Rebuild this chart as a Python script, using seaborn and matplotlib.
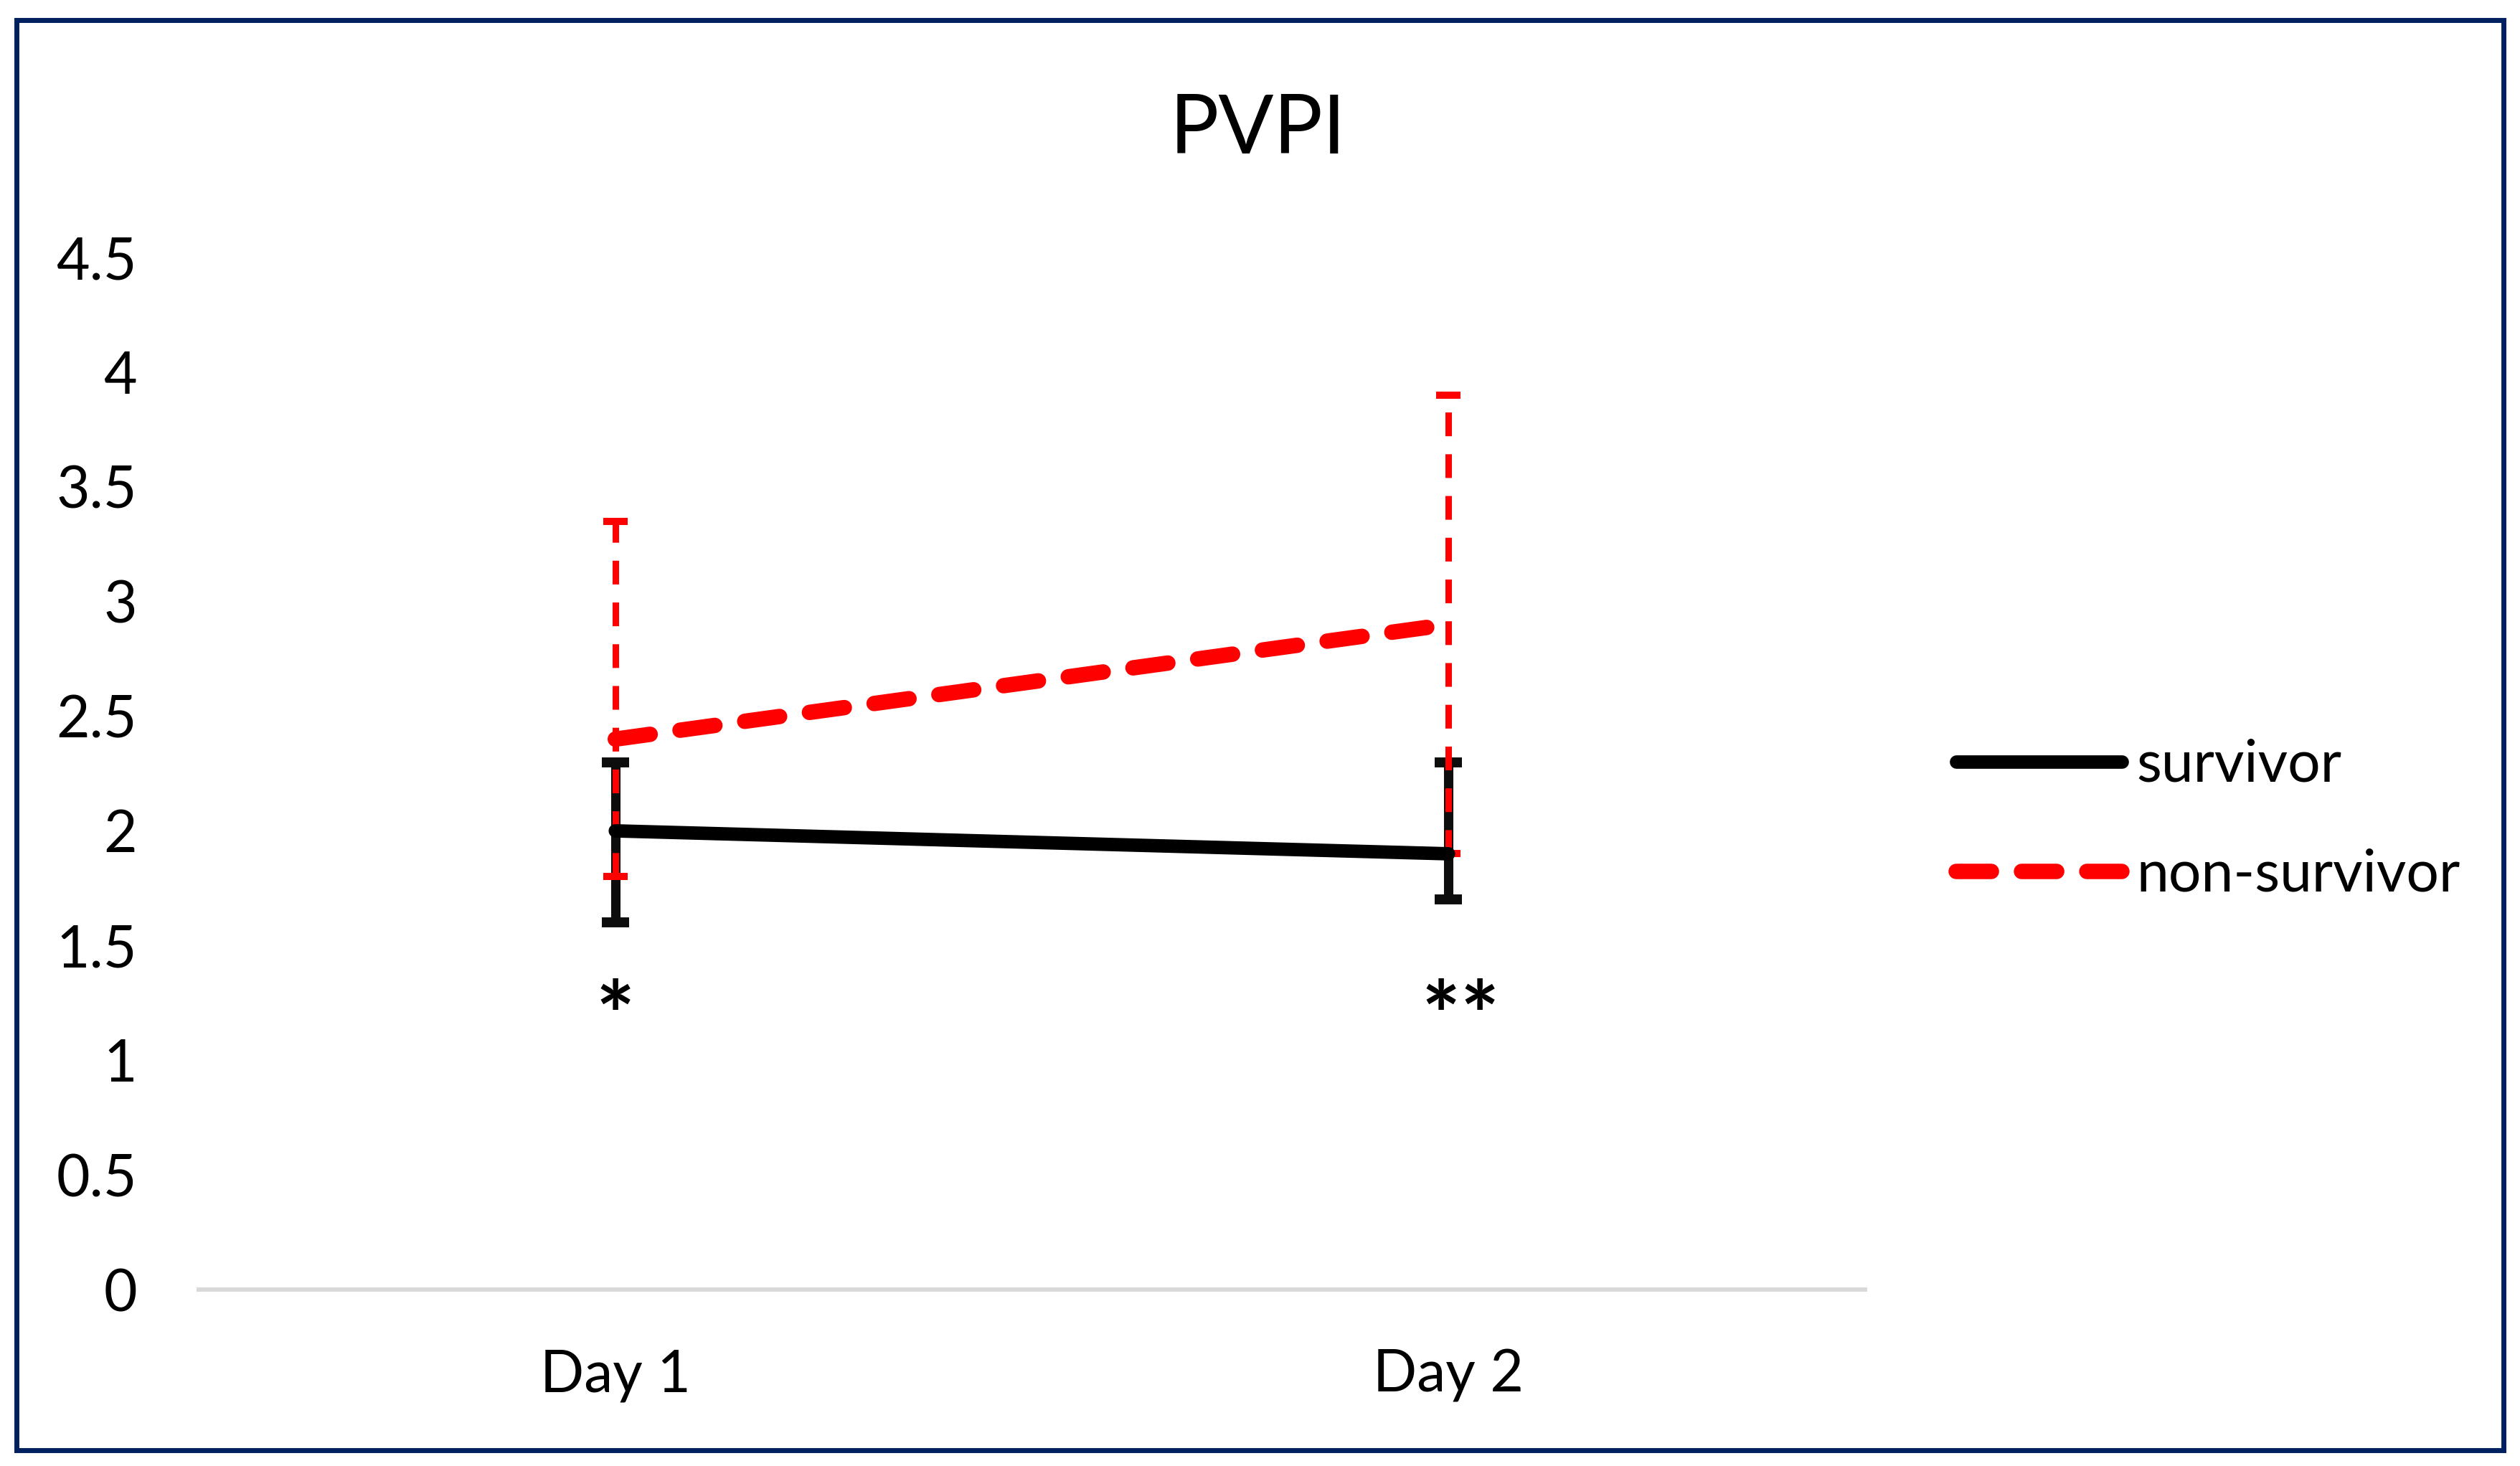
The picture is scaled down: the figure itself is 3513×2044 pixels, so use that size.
import matplotlib
matplotlib.use("Agg")
import matplotlib.pyplot as plt
import matplotlib.patches as mpatches
import seaborn as sns
import pandas as pd
import numpy as np

# ---- data ----
days = ["Day 1", "Day 2"]
survivor_mean = [2.0, 1.9]
survivor_low = [1.6, 1.7]
survivor_high = [2.3, 2.3]
nonsurvivor_mean = [2.4, 2.9]
nonsurvivor_low = [1.8, 1.9]
nonsurvivor_high = [3.35, 3.9]
series_names = ["survivor", "non-survivor"]
yticks = [0, 0.5, 1, 1.5, 2, 2.5, 3, 3.5, 4, 4.5]
ytick_labels = ["0", "0.5", "1", "1.5", "2", "2.5", "3", "3.5", "4", "4.5"]
title = "PVPI"
sig_marks = [["*"], ["*", "*"]]
sig_y = 1.05

sns.set_style("white")
plt.rcParams["font.family"] = ["Lato", "DejaVu Sans"]

W, H = 3513, 2044
DPI = 100
fig = plt.figure(figsize=(W / DPI, H / DPI), dpi=DPI)
fig.patch.set_facecolor("white")

ax_left, ax_right = 277 / W, 2600 / W
ax_bottom, ax_top = 1 - 1798 / H, 1 - 359 / H
ax = fig.add_axes([ax_left, ax_bottom, ax_right - ax_left, ax_top - ax_bottom])

df_s = pd.DataFrame({"day": days, "value": survivor_mean})
df_n = pd.DataFrame({"day": days, "value": nonsurvivor_mean})

x_idx = np.arange(len(days))

# error bars
ax.errorbar(x_idx, survivor_mean,
            yerr=[np.array(survivor_mean) - np.array(survivor_low),
                  np.array(survivor_high) - np.array(survivor_mean)],
            fmt="none", ecolor="#0D0D0D", elinewidth=9.4, capsize=13.7,
            capthick=10, zorder=2)
eb = ax.errorbar(x_idx, nonsurvivor_mean,
                 yerr=[np.array(nonsurvivor_mean) - np.array(nonsurvivor_low),
                       np.array(nonsurvivor_high) - np.array(nonsurvivor_mean)],
                 fmt="none", ecolor="#FF0000", elinewidth=6.5, capsize=12.2,
                 capthick=7.2, zorder=3)
for lc in eb[2]:
    lc.set_linestyle((0, (3.67, 2.78)))

sns.lineplot(data=df_s, x="day", y="value", color="black", linewidth=13.5,
             ax=ax, sort=False, label=series_names[0], zorder=4)
sns.lineplot(data=df_n, x="day", y="value", color="#FF0000", linewidth=15.5,
             linestyle=(0, (2.28, 1.95)), ax=ax, sort=False,
             label=series_names[1], zorder=5)
for ln in ax.lines:
    ln.set_solid_capstyle("round")
    ln.set_dash_capstyle("round")

ax.set_xlim(-0.5, 1.5)
ax.set_ylim(0, 4.5)
ax.set_yticks(yticks)
ax.set_yticklabels(ytick_labels)
ax.set_xlabel("")
ax.set_ylabel("")
ax.tick_params(axis="both", length=0, labelsize=58, colors="black")
ax.tick_params(axis="y", pad=62)
ax.tick_params(axis="x", pad=60)
for s in ["top", "right", "left"]:
    ax.spines[s].set_visible(False)
ax.spines["bottom"].set_color("#D9D9D9")
ax.spines["bottom"].set_linewidth(4.3)
ax.grid(False)

# significance marks
for i, marks in enumerate(sig_marks):
    n = len(marks)
    for j, m in enumerate(marks):
        off = (j - (n - 1) / 2) * 54 * 72 / DPI + (16 if n > 1 else 0) * 72 / DPI
        ax.annotate(m, xy=(x_idx[i], sig_y), xytext=(off, 0),
                    textcoords="offset points", ha="center", va="baseline",
                    fontsize=92, color="black", fontweight="bold")

# title
fig.text(1753 / W, 1 - 214 / H, title, ha="center", va="baseline",
         fontsize=82, color="black")

# legend
handles, labels = ax.get_legend_handles_labels()
leg = ax.legend(handles, labels, loc="upper left",
                bbox_to_anchor=(2727 / W, 1 - 1030 / H),
                bbox_transform=fig.transFigure, frameon=False,
                fontsize=58, handlelength=2.87, handletextpad=0.25,
                labelspacing=0.98, borderpad=0, borderaxespad=0)
for t in leg.get_texts():
    t.set_color("black")
for lh in leg.get_lines():
    lh.set_solid_capstyle("round")
    lh.set_dash_capstyle("round")

# outer border
border = mpatches.Rectangle((23 / W, 1 - 2022 / H), (3490 - 23) / W,
                            (2022 - 28) / H, transform=fig.transFigure,
                            fill=False, edgecolor="#002060", linewidth=5.0,
                            zorder=10)
fig.patches.append(border)

fig.savefig("out.png", dpi=DPI, facecolor="white")
